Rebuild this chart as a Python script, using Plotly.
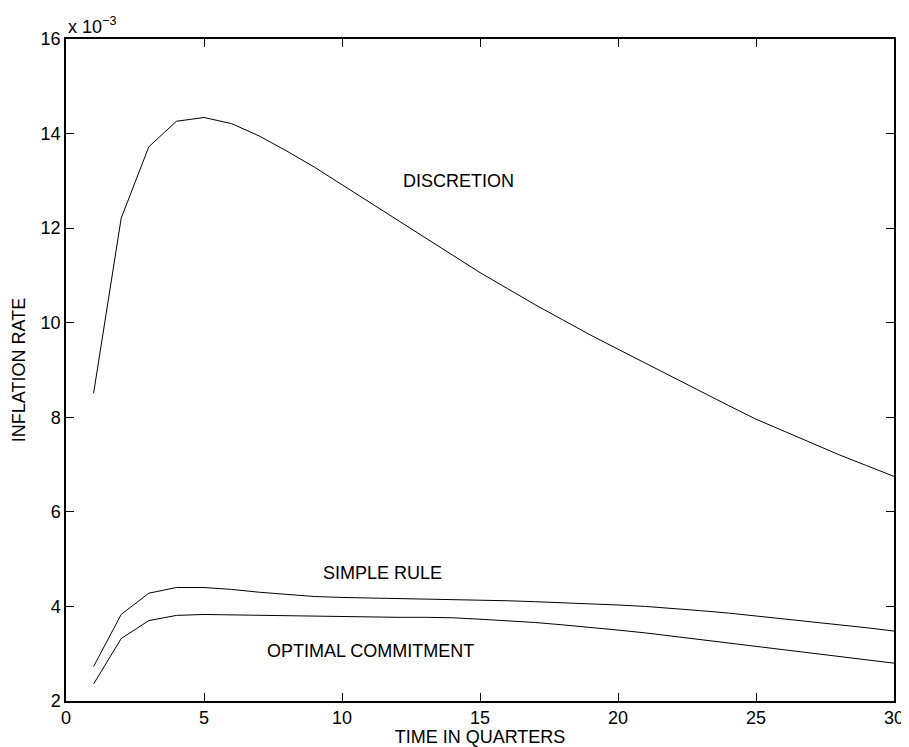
import plotly.graph_objects as go

quarters = list(range(1, 31))
discretion = [8.51, 12.21, 13.72, 14.26, 14.34, 14.21, 13.95, 13.63, 13.29, 12.92,
              12.55, 12.17, 11.80, 11.43, 11.06, 10.72, 10.38, 10.06, 9.74, 9.44,
              9.14, 8.84, 8.54, 8.25, 7.96, 7.71, 7.46, 7.21, 6.98, 6.75]
simple_rule = [2.73, 3.83, 4.28, 4.40, 4.40, 4.36, 4.30, 4.25, 4.21, 4.19,
               4.18, 4.17, 4.16, 4.15, 4.13, 4.12, 4.10, 4.08, 4.06, 4.03,
               4.00, 3.96, 3.91, 3.86, 3.80, 3.74, 3.68, 3.62, 3.55, 3.48]
optimal_commitment = [2.36, 3.32, 3.70, 3.81, 3.83, 3.82, 3.81, 3.80, 3.79, 3.78,
                      3.78, 3.77, 3.77, 3.76, 3.73, 3.70, 3.66, 3.61, 3.56, 3.50,
                      3.44, 3.37, 3.30, 3.23, 3.16, 3.09, 3.02, 2.95, 2.87, 2.80]

x_ticks = [0, 5, 10, 15, 20, 25, 30]
y_ticks = [2, 4, 6, 8, 10, 12, 14, 16]

labels = ["DISCRETION", "SIMPLE RULE", "OPTIMAL COMMITMENT"]
label_x = [12.15, 9.24, 7.22]
label_y = [13.0, 4.70, 3.05]

FONT = "Liberation Sans, Arial, Helvetica, sans-serif"
FS = 18

fig = go.Figure()
for series in (discretion, simple_rule, optimal_commitment):
    fig.add_trace(go.Scatter(x=quarters, y=series, mode="lines",
                             line=dict(color="black", width=1), showlegend=False,
                             hoverinfo="skip"))

for t, lx, ly in zip(labels, label_x, label_y):
    fig.add_annotation(x=lx, y=ly, text=t, showarrow=False, xanchor="left",
                       yanchor="middle", font=dict(size=FS, color="black", family=FONT))

fig.add_annotation(xref="paper", yref="paper", x=0.0, y=1.0, xanchor="left",
                   yanchor="bottom", yshift=0, showarrow=False,
                   text="x 10<sup>\u22123</sup>",
                   font=dict(size=FS, color="black", family=FONT))

axis_common = dict(showline=True, linecolor="black", linewidth=1.5, mirror="allticks",
                   ticks="inside", ticklen=8, tickwidth=1, tickcolor="black",
                   showgrid=False, zeroline=False,
                   tickfont=dict(size=FS, color="black", family=FONT))

fig.update_xaxes(range=[0, 30], tickvals=x_ticks,
                 title=dict(text="TIME IN QUARTERS", standoff=2,
                            font=dict(size=FS, color="black", family=FONT)),
                 **axis_common)
fig.update_yaxes(range=[2, 16], tickvals=y_ticks,
                 title=dict(text="INFLATION RATE", standoff=10,
                            font=dict(size=FS, color="black", family=FONT)),
                 **axis_common)

# page body has an 8px default margin, so the figure is sized to fit the window
fig.update_layout(width=901, height=739, plot_bgcolor="white", paper_bgcolor="white",
                  margin=dict(l=58, r=15, t=31, b=46, autoexpand=False),
                  font=dict(family=FONT, color="black"))

fig.write_html("out.html")
